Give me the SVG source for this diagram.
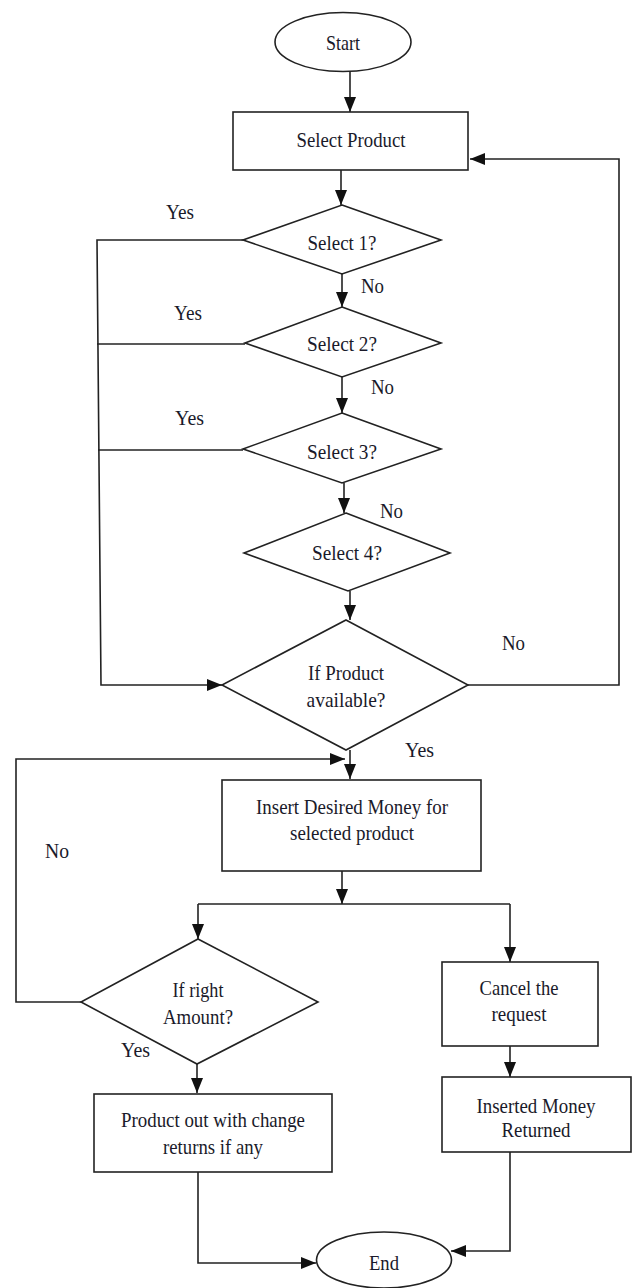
<svg xmlns="http://www.w3.org/2000/svg" width="633" height="1288" viewBox="0 0 633 1288">
<style>
.s{fill:#fff;stroke:#222;stroke-width:1.6}
.c{fill:none;stroke:#222;stroke-width:1.6}
text{font-family:"Liberation Serif","Times New Roman",serif;font-size:22px;fill:#1a1a2a;text-anchor:middle}
.l{text-anchor:start}
</style>
<defs>
<marker id="a" markerUnits="userSpaceOnUse" markerWidth="15" markerHeight="12" refX="15" refY="6" orient="auto">
<path d="M0,0 L15,6 L0,12 z" fill="#111"/>
</marker>
</defs>
<rect width="633" height="1288" fill="#fff"/>
<g id="connectors">
<path class="c" d="M350,72 V112" marker-end="url(#a)"/>
<path class="c" d="M341,170 V205" marker-end="url(#a)"/>
<path class="c" d="M342,274 V307" marker-end="url(#a)"/>
<path class="c" d="M342,377 V413" marker-end="url(#a)"/>
<path class="c" d="M344,483 V513" marker-end="url(#a)"/>
<path class="c" d="M350,591 V620" marker-end="url(#a)"/>
<path class="c" d="M243,240 H97 L101,685 H222" marker-end="url(#a)"/>
<path class="c" d="M245,344 H97"/>
<path class="c" d="M243,450 H98"/>
<path class="c" d="M468,685 H619 V159 H470" marker-end="url(#a)"/>
<path class="c" d="M350,750 V779" marker-end="url(#a)"/>
<path class="c" d="M81,1002 H16 V759 H345" marker-end="url(#a)"/>
<path class="c" d="M342,871 V904" marker-end="url(#a)"/>
<path class="c" d="M198,904 H510"/>
<path class="c" d="M198,904 V939" marker-end="url(#a)"/>
<path class="c" d="M510,904 V962" marker-end="url(#a)"/>
<path class="c" d="M197,1064 V1093" marker-end="url(#a)"/>
<path class="c" d="M510,1046 V1077" marker-end="url(#a)"/>
<path class="c" d="M198,1172 V1263 H316" marker-end="url(#a)"/>
<path class="c" d="M510,1152 V1251 H451" marker-end="url(#a)"/>
</g>
<g id="start">
<ellipse class="s" cx="343" cy="42" rx="68" ry="29.5"/>
<text x="343" y="50" textLength="34" lengthAdjust="spacingAndGlyphs">Start</text>
</g>
<g id="select-product">
<rect class="s" x="233" y="112" width="235" height="58"/>
<text x="351" y="147" textLength="109" lengthAdjust="spacingAndGlyphs">Select Product</text>
</g>
<g id="select1">
<polygon class="s" points="342,205 441,240 342,274 243,240"/>
<text x="342" y="250" textLength="69" lengthAdjust="spacingAndGlyphs">Select 1?</text>
</g>
<g id="select2">
<polygon class="s" points="342,307 441,343 342,377 245,343"/>
<text x="342" y="351" textLength="70" lengthAdjust="spacingAndGlyphs">Select 2?</text>
</g>
<g id="select3">
<polygon class="s" points="342,413 441,449 342,483 243,449"/>
<text x="342" y="459" textLength="70" lengthAdjust="spacingAndGlyphs">Select 3?</text>
</g>
<g id="select4">
<polygon class="s" points="346,513 450,553 348,591 244,553"/>
<text x="347" y="560" textLength="70" lengthAdjust="spacingAndGlyphs">Select 4?</text>
</g>
<g id="available">
<polygon class="s" points="346,620 468,685 346,750 222,685"/>
<text x="346" y="680" textLength="76" lengthAdjust="spacingAndGlyphs">If Product</text>
<text x="346" y="707" textLength="79" lengthAdjust="spacingAndGlyphs">available?</text>
</g>
<g id="insert">
<rect class="s" x="222" y="780" width="259" height="91"/>
<text x="352" y="814" textLength="192" lengthAdjust="spacingAndGlyphs">Insert Desired Money for</text>
<text x="352" y="840" textLength="124" lengthAdjust="spacingAndGlyphs">selected product</text>
</g>
<g id="right-amount">
<polygon class="s" points="198,939 318,1002 197,1064 81,1002"/>
<text x="198" y="997" textLength="51" lengthAdjust="spacingAndGlyphs">If right</text>
<text x="198" y="1024" textLength="70" lengthAdjust="spacingAndGlyphs">Amount?</text>
</g>
<g id="product-out">
<rect class="s" x="94" y="1094" width="238" height="78"/>
<text x="213" y="1127" textLength="184" lengthAdjust="spacingAndGlyphs">Product out with change</text>
<text x="213" y="1154" textLength="100" lengthAdjust="spacingAndGlyphs">returns if any</text>
</g>
<g id="cancel">
<rect class="s" x="442" y="962" width="156" height="84"/>
<text x="519" y="995" textLength="79" lengthAdjust="spacingAndGlyphs">Cancel the</text>
<text x="519" y="1021" textLength="55" lengthAdjust="spacingAndGlyphs">request</text>
</g>
<g id="returned">
<rect class="s" x="442" y="1077" width="189" height="75"/>
<text x="536" y="1113" textLength="119" lengthAdjust="spacingAndGlyphs">Inserted Money</text>
<text x="536" y="1137" textLength="69" lengthAdjust="spacingAndGlyphs">Returned</text>
</g>
<g id="end">
<ellipse class="s" cx="384" cy="1260" rx="67.5" ry="28"/>
<text x="384" y="1270" textLength="30" lengthAdjust="spacingAndGlyphs">End</text>
</g>
<g id="labels">
<text class="l" x="166" y="219" textLength="28" lengthAdjust="spacingAndGlyphs">Yes</text>
<text class="l" x="361" y="293" textLength="23" lengthAdjust="spacingAndGlyphs">No</text>
<text class="l" x="174" y="320" textLength="28" lengthAdjust="spacingAndGlyphs">Yes</text>
<text class="l" x="371" y="394" textLength="23" lengthAdjust="spacingAndGlyphs">No</text>
<text class="l" x="175" y="425" textLength="29" lengthAdjust="spacingAndGlyphs">Yes</text>
<text class="l" x="380" y="518" textLength="23" lengthAdjust="spacingAndGlyphs">No</text>
<text class="l" x="502" y="650" textLength="23" lengthAdjust="spacingAndGlyphs">No</text>
<text class="l" x="405" y="757" textLength="29" lengthAdjust="spacingAndGlyphs">Yes</text>
<text class="l" x="45" y="858" textLength="24" lengthAdjust="spacingAndGlyphs">No</text>
<text class="l" x="121" y="1057" textLength="29" lengthAdjust="spacingAndGlyphs">Yes</text>
</g>
</svg>
